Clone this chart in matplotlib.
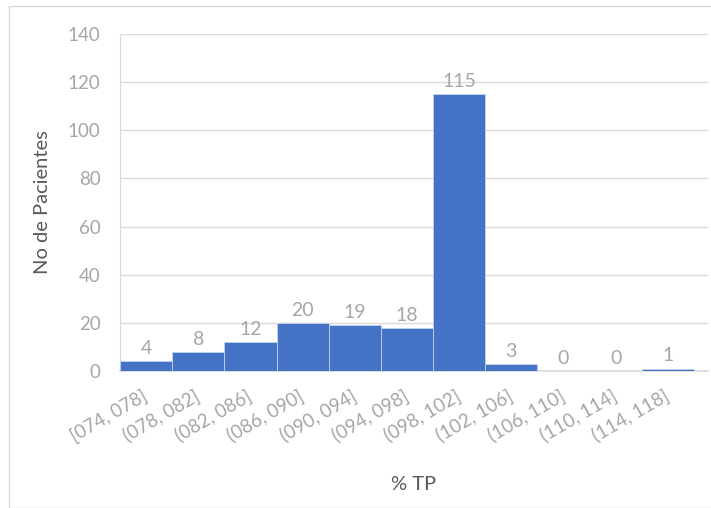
import numpy as np
import matplotlib.pyplot as plt
from matplotlib.patches import Rectangle

plt.rcParams['font.family'] = ['Lato', 'DejaVu Sans']

bins = ['[074, 078]', '(078, 082]', '(082, 086]', '(086, 090]', '(090, 094]',
        '(094, 098]', '(098, 102]', '(102, 106]', '(106, 110]', '(110, 114]',
        '(114, 118]']
pacientes = [4, 8, 12, 20, 19, 18, 115, 3, 0, 0, 1]

azul = '#4472C4'
gris_txt = '#a6a6a6'
gris_eje = '#595959'
gris_lin = '#d9d9d9'

fig = plt.figure(figsize=(7.11, 5.08), dpi=100)
ax = fig.add_axes([120/711, 137/508, 588/711, 337/508])

# marco del gráfico
fig.patches.append(Rectangle((9/711, 0), 1.0, 1 - 6/508, transform=fig.transFigure,
                             fill=False, edgecolor='#d9d9d9', lw=1.0))

x = np.arange(len(bins))
barras = ax.bar(x, pacientes, width=1.0, color=azul, edgecolor='#c5d3ee',
                linewidth=0.6, zorder=3)

for xi, v in zip(x, pacientes):
    ax.annotate(str(v), (xi, v), xytext=(0, 3), textcoords='offset points',
                ha='center', va='bottom', fontsize=14, color=gris_txt, zorder=4)

ax.set_xlim(-0.5, 10.77)
ax.set_ylim(0, 140)
ax.set_yticks(np.arange(0, 141, 20))
ax.yaxis.grid(True, color=gris_lin, lw=1.0, zorder=0)

ax.set_xticks(x)
ax.set_xticklabels(bins, rotation=30, ha='right', va='center',
                   rotation_mode='anchor', fontsize=13.5, color=gris_txt)
ax.tick_params(axis='x', length=0, pad=17)
ax.tick_params(axis='y', length=0, pad=14, labelsize=13.5, labelcolor=gris_txt)

for lado in ['top', 'right']:
    ax.spines[lado].set_visible(False)
ax.spines['left'].set_color(gris_lin)
ax.spines['bottom'].set_color(gris_lin)
ax.spines['bottom'].set_linewidth(1.2)

ax.set_ylabel('No de Pacientes', fontsize=14.5, color=gris_eje, labelpad=12)
ax.set_xlabel('% TP', fontsize=14.5, color=gris_eje, labelpad=22)

fig.savefig('out.png', dpi=100)
